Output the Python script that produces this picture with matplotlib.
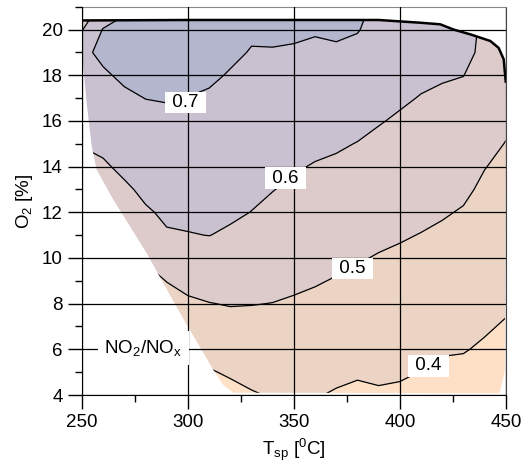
import numpy as np
import matplotlib.pyplot as plt
from matplotlib.patches import Polygon
from matplotlib.ticker import MultipleLocator

plt.rcParams['font.family'] = ['Liberation Sans', 'DejaVu Sans']

# grid of the map: spray temperature [C] and oxygen [%]
t_sp = [250, 260, 270, 280, 290, 300, 310, 320, 330, 340, 350,
        360, 370, 380, 390, 400, 410, 420, 430, 440, 450]
o2 = [4, 5, 6, 7, 8, 9, 10, 11, 12, 13, 14, 15, 16, 17, 18, 19, 20, 20.5]

# NO2/NOx ratio, one row per temperature (values along o2)
no2_ratio = [
    [0.205, 0.242, 0.278, 0.314, 0.351, 0.387, 0.424, 0.460, 0.496, 0.533, 0.569, 0.605, 0.630, 0.650, 0.665, 0.685, 0.595, 0.560],
    [0.257, 0.290, 0.323, 0.357, 0.390, 0.423, 0.457, 0.490, 0.523, 0.557, 0.590, 0.617, 0.642, 0.667, 0.691, 0.715, 0.705, 0.660],
    [0.270, 0.306, 0.341, 0.376, 0.412, 0.447, 0.482, 0.518, 0.553, 0.588, 0.616, 0.640, 0.664, 0.688, 0.712, 0.725, 0.725, 0.710],
    [0.275, 0.314, 0.353, 0.392, 0.431, 0.471, 0.510, 0.549, 0.592, 0.615, 0.636, 0.657, 0.679, 0.701, 0.722, 0.735, 0.740, 0.740],
    [0.327, 0.362, 0.397, 0.432, 0.467, 0.502, 0.550, 0.594, 0.611, 0.630, 0.648, 0.667, 0.685, 0.704, 0.722, 0.735, 0.742, 0.742],
    [0.340, 0.376, 0.413, 0.450, 0.487, 0.524, 0.560, 0.597, 0.616, 0.632, 0.649, 0.666, 0.683, 0.699, 0.716, 0.730, 0.740, 0.740],
    [0.359, 0.394, 0.429, 0.463, 0.498, 0.532, 0.566, 0.601, 0.616, 0.631, 0.647, 0.662, 0.678, 0.693, 0.709, 0.722, 0.730, 0.730],
    [0.377, 0.409, 0.441, 0.473, 0.504, 0.533, 0.562, 0.591, 0.610, 0.624, 0.639, 0.653, 0.667, 0.682, 0.696, 0.710, 0.720, 0.720],
    [0.394, 0.421, 0.448, 0.476, 0.502, 0.526, 0.550, 0.575, 0.599, 0.613, 0.627, 0.641, 0.655, 0.669, 0.683, 0.697, 0.708, 0.710],
    [0.405, 0.428, 0.452, 0.475, 0.499, 0.520, 0.540, 0.561, 0.582, 0.602, 0.618, 0.634, 0.649, 0.665, 0.681, 0.697, 0.710, 0.712],
    [0.408, 0.430, 0.451, 0.472, 0.493, 0.512, 0.531, 0.550, 0.569, 0.587, 0.606, 0.624, 0.641, 0.659, 0.677, 0.695, 0.708, 0.710],
    [0.404, 0.424, 0.445, 0.465, 0.486, 0.505, 0.523, 0.541, 0.559, 0.578, 0.596, 0.614, 0.633, 0.651, 0.670, 0.689, 0.705, 0.708],
    [0.394, 0.414, 0.435, 0.455, 0.476, 0.496, 0.515, 0.534, 0.552, 0.571, 0.589, 0.608, 0.629, 0.651, 0.672, 0.693, 0.708, 0.710],
    [0.387, 0.407, 0.426, 0.446, 0.466, 0.485, 0.505, 0.523, 0.542, 0.560, 0.579, 0.598, 0.619, 0.641, 0.663, 0.685, 0.703, 0.705],
    [0.393, 0.410, 0.427, 0.444, 0.461, 0.478, 0.496, 0.513, 0.532, 0.550, 0.568, 0.586, 0.604, 0.623, 0.642, 0.661, 0.680, 0.690],
    [0.390, 0.407, 0.423, 0.440, 0.456, 0.473, 0.489, 0.506, 0.523, 0.540, 0.558, 0.575, 0.592, 0.609, 0.626, 0.643, 0.660, 0.668],
    [0.382, 0.399, 0.415, 0.432, 0.449, 0.465, 0.482, 0.498, 0.515, 0.531, 0.546, 0.564, 0.580, 0.597, 0.613, 0.628, 0.640, 0.645],
    [0.372, 0.389, 0.405, 0.422, 0.439, 0.456, 0.472, 0.489, 0.506, 0.523, 0.540, 0.556, 0.573, 0.589, 0.606, 0.618, 0.625, 0.625],
    [0.372, 0.387, 0.403, 0.418, 0.433, 0.449, 0.464, 0.479, 0.495, 0.512, 0.529, 0.547, 0.565, 0.582, 0.601, 0.612, 0.615, 0.610],
    [0.365, 0.379, 0.393, 0.406, 0.420, 0.433, 0.447, 0.461, 0.474, 0.488, 0.502, 0.519, 0.537, 0.554, 0.572, 0.590, 0.592, 0.585],
    [0.356, 0.369, 0.382, 0.395, 0.408, 0.420, 0.433, 0.446, 0.459, 0.472, 0.485, 0.498, 0.512, 0.527, 0.540, 0.550, 0.555, 0.555],
]

# measured operating window (top edge first, then right, bottom, left)
edge_t = [250, 300, 390, 409.7, 419.1, 425.4, 433.3, 442.7, 446.6, 449, 450,
          449.5, 447, 321.5, 316.7, 312, 296.3, 288.4, 280.6, 272.7, 264.8,
          256.9, 254.6, 252.2, 250.5]
edge_o2 = [20.4, 20.42, 20.42, 20.3, 20.23, 20.0, 19.79, 19.5, 19.2, 18.7, 17.67,
           5.0, 4.08, 4.1, 4.44, 5.1, 7.58, 8.9, 10.2, 11.38, 12.55,
           13.87, 14.9, 16.8, 18.5]
n_top = 11

levels = [0.0, 0.4, 0.5, 0.6, 0.7, 1.0]
band_colors = ['#fde0c6', '#ecd4c4', '#dccbca', '#c9c0d0', '#b3b6cd']

label_levels = ['0.7', '0.6', '0.5', '0.4']
label_t = [299, 346, 377.6, 413.4]
label_o2 = [16.8, 13.5, 9.53, 5.28]

FS = 13.5

fig = plt.figure(figsize=(5.22, 4.65), dpi=100)
ax = fig.add_axes([0.157, 0.1505, 0.812, 0.835])

Z = np.array(no2_ratio).T
domain = Polygon(np.column_stack([edge_t, edge_o2]), closed=True,
                 transform=ax.transData, facecolor='none', edgecolor='none')

cf = ax.contourf(t_sp, o2, Z, levels=levels, colors=band_colors, zorder=1)
cf.set_clip_path(domain)
cl = ax.contour(t_sp, o2, Z, levels=[0.4, 0.5, 0.6, 0.7], colors='k',
                linewidths=0.9, zorder=2)
cl.set_clip_path(domain)

ax.plot(edge_t[:n_top], edge_o2[:n_top], color='k', lw=1.8, zorder=2.6,
        solid_capstyle='butt')

for lab, x, y in zip(label_levels, label_t, label_o2):
    ax.text(x, y, ' ' + lab + ' ', ha='center', va='center', fontsize=FS,
            zorder=4, bbox=dict(boxstyle='square,pad=0.12', fc='white', ec='none'))

ax.text(279, 6.06, r'NO$\mathregular{_2}$/NO$\mathregular{_x}$', ha='center',
        va='center', fontsize=FS, zorder=4,
        bbox=dict(boxstyle='square,pad=0.35', fc='white', ec='none'))

ax.set_xlim(250, 450)
ax.set_ylim(4, 21)
ax.xaxis.set_major_locator(MultipleLocator(50))
ax.xaxis.set_minor_locator(MultipleLocator(25))
ax.yaxis.set_major_locator(MultipleLocator(2))
ax.yaxis.set_minor_locator(MultipleLocator(1))

ax.set_axisbelow(False)
ax.grid(True, which='major', color='k', lw=0.9)
ax.tick_params(which='major', length=10, width=1, labelsize=FS, pad=4)
ax.tick_params(which='minor', length=5, width=1)

ax.spines['top'].set_color('#888888')
ax.spines['right'].set_color('#444444')

ax.set_xlabel(r'T$\mathregular{_{sp}}$ [$\mathregular{^0}$C]', fontsize=FS, labelpad=4)
ax.set_ylabel(r'O$\mathregular{_2}$ [%]', fontsize=FS, labelpad=5)

fig.savefig('out.png', dpi=100)
